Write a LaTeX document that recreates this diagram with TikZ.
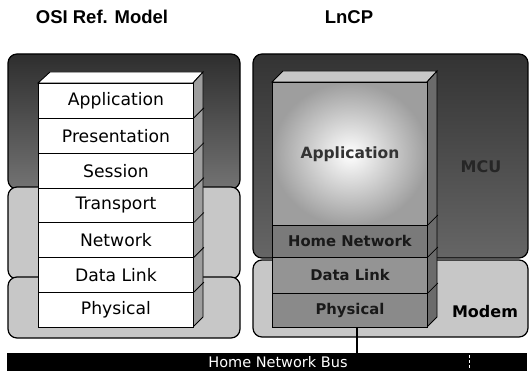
\documentclass[tikz,border=0pt]{standalone}
\usepackage{fontspec}
\setmainfont{DejaVu Sans}
\newfontfamily\titlefont{Liberation Sans}
\usetikzlibrary{calc}
\begin{document}
\begin{tikzpicture}[x=1pt,y=-1pt,
  region/.style={draw=black, line width=1.2pt, rounded corners=9pt},
  darkregion/.style={region, top color=black!82, bottom color=black!55},
  lightregion/.style={region, fill=black!22},
  osilayer/.style={draw=black, line width=0.9pt, fill=white, minimum width=155pt,
     minimum height=34.857pt, inner sep=0pt, anchor=north west,
     font=\fontsize{17.2}{18}\selectfont},
  lnlayer/.style={draw=black, line width=0.9pt, fill=black!42, minimum width=155pt,
     inner sep=0pt, anchor=north west,
     font=\bfseries\fontsize{14.8}{16}\selectfont, text=black!90},
  title/.style={font=\titlefont\bfseries\fontsize{18.5}{20}\selectfont},
  tag/.style={font=\bfseries\fontsize{16}{18}\selectfont},
  face/.style={draw=black, line width=0.9pt},
  edge/.style={draw=black, line width=0.8pt}]
\useasboundingbox (0,0) rectangle (529,371);

% titles
\node[title] (t1) at (102,17) {OSI Ref. Model};
\node[title] (t2) at (349,17) {LnCP};

% ---------- left panel ----------
\path[darkregion] (8,54) rectangle (240,189);
\path[lightregion] (8,187) rectangle (240,279);
\path[lightregion] (8,277) rectangle (240,338);

% 3D faces of OSI stack
\path[face, fill=white] (38,83) -- (50,72) -- (203,72) -- (193,83) -- cycle;
\path[face, fill=black!38] (193,83) -- (203,72) -- (203,317) -- (193,327) -- cycle;

\node[osilayer] (app)  at (38,83)      {Application};
\node[osilayer] (pres) at (38,117.857) {Presentation};
\node[osilayer] (sess) at (38,152.714) {Session};
\node[osilayer] (trans) at (38,187.571) {Transport};
\node[osilayer] (net)  at (38,222.429) {Network};
\node[osilayer] (dl)   at (38,257.286) {Data Link};
\node[osilayer] (phys) at (38,292.143) {Physical};

\foreach \n in {pres,sess,trans,net,dl,phys}
  \draw[edge] (\n.north east) -- ++(10,-10);

% ---------- right panel ----------
\path[region, top color=black!80, bottom color=black!60] (253,54) rectangle (528,258);
\path[lightregion] (253,260) rectangle (528,337);

% 3D faces of LnCP stack
\path[face, fill=black!22] (272,82) -- (283,71) -- (437,71) -- (427,82) -- cycle;
\path[face, fill=black!58] (427,82) -- (437,71) -- (437,317) -- (427,327) -- cycle;

\node[lnlayer, minimum height=143pt, inner color=white, outer color=black!38] (rapp) at (272,82) {};
\node[font=\bfseries\fontsize{15.5}{16}\selectfont, text=black!80] (rapplbl) at (rapp.center) {Application};
\node[lnlayer, minimum height=32pt, fill=black!52] (rhn) at (272,225) {Home Network};
\node[lnlayer, minimum height=36pt] (rdl) at (272,257) {Data Link};
\node[lnlayer, minimum height=34pt, fill=black!46] (rphys) at (272,293) {Physical};

\foreach \n in {rhn,rdl,rphys}
  \draw[edge] (\n.north east) -- ++(10,-10);

\node[tag, text=black!85] (mcu) at (481,167) {MCU};
\node[tag] (modem) at (485,312) {Modem};

% ---------- bus ----------
\node[fill=black, minimum width=520pt, minimum height=18pt, inner sep=0pt,
      anchor=north west] (bus) at (7,353) {};
\node[text=white, font=\fontsize{14.5}{15}\selectfont] (buslbl) at (278,362) {Home Network Bus};
\coordinate (tap) at (357,353);
\draw[line width=1.2pt] (rphys.south -| tap) -- (tap);
\draw[white, line width=0.9pt, dash pattern=on 3pt off 2pt] (469,355) -- (469,369);
\end{tikzpicture}
\end{document}
